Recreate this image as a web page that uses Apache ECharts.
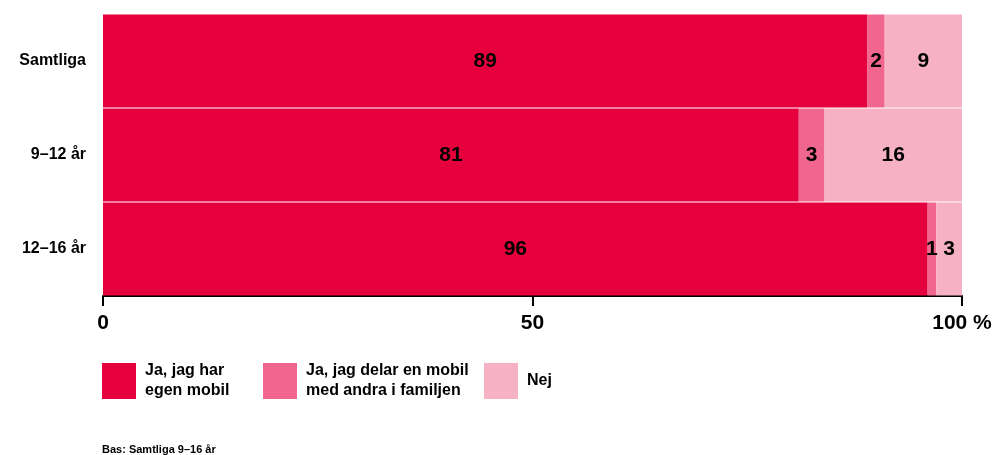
<!DOCTYPE html>
<html lang="sv">
  <head>
    <meta charset="UTF-8" />
    <title>Mobil</title>
    <script src="https://cdn.jsdelivr.net/npm/echarts@6.0.0/dist/echarts.min.js"></script>
    <style>
      body { margin: 0; background: #fff; }
    </style>
  </head>
  <body>
    <div id="main" style="width: 997px; height: 455px"></div>
    <script type="text/javascript">
      // data
      const categories = ["Samtliga", "9–12 år", "12–16 år"];
      const egenMobil = [89, 81, 96];
      const delarMobil = [2, 3, 1];
      const nej = [9, 16, 3];
      const xTicks = [0, 50, 100];

      const names = ["Ja, jag har egen mobil", "Ja, jag delar en mobil med andra i familjen", "Nej"];
      const legendText = {
        "Ja, jag har egen mobil": "Ja, jag har\negen mobil",
        "Ja, jag delar en mobil med andra i familjen": "Ja, jag delar en mobil\nmed andra i familjen",
        "Nej": "Nej",
      };
      const colors = ["#E5003D", "#F0668E", "#F6B2C4"];
      const font = "Liberation Sans";

      function bar(name, data, color) {
        return {
          name: name,
          type: "bar",
          stack: "total",
          data: data,
          barCategoryGap: 1,
          itemStyle: { color: color },
          label: {
            show: true,
            position: "inside",
            color: "#000",
            fontFamily: font,
            fontWeight: "bold",
            fontSize: 21,
          },
        };
      }

      function legendAt(name, left, top) {
        return {
          data: [name],
          left: left,
          top: top,
          padding: 0,
          itemWidth: 34,
          itemHeight: 36,
          icon: "rect",
          selectedMode: false,
          formatter: (n) => legendText[n],
          textStyle: {
            fontFamily: font,
            fontWeight: "bold",
            fontSize: 16,
            lineHeight: 20,
            color: "#000",
            padding: [0, 0, 0, 4],
          },
        };
      }

      let options = {
        animation: false,
        color: colors,
        title: {
          text: "Bas: Samtliga 9–16 år",
          left: 97,
          top: 439,
          textStyle: { fontFamily: font, fontWeight: "bold", fontSize: 11, color: "#000" },
        },
        legend: [
          legendAt(names[0], 102, 361),
          legendAt(names[1], 263, 361),
          legendAt(names[2], 484, 363),
        ],
        grid: { left: 103, right: 35, top: 14, bottom: 159, containLabel: false },
        xAxis: {
          type: "value",
          min: 0,
          max: 100,
          interval: 50,
          splitLine: { show: false },
          axisLine: { show: true, lineStyle: { color: "#000", width: 2 } },
          axisTick: { show: true, length: 10, lineStyle: { color: "#000", width: 2 } },
          axisLabel: {
            margin: 17,
            fontFamily: font,
            fontWeight: "bold",
            fontSize: 21,
            color: "#000",
            formatter: (v) => (xTicks.includes(v) ? (v === 100 ? "100 %" : String(v)) : ""),
          },
        },
        yAxis: {
          type: "category",
          data: categories,
          inverse: true,
          axisLine: { show: false },
          axisTick: { show: false },
          axisLabel: {
            margin: 17,
            fontFamily: font,
            fontWeight: "bold",
            fontSize: 16,
            color: "#000",
          },
        },
        series: [
          bar(names[0], egenMobil, colors[0]),
          bar(names[1], delarMobil, colors[1]),
          bar(names[2], nej, colors[2]),
        ],
      };

      let myChart = echarts.init(document.getElementById("main"));
      myChart.setOption(options);
    </script>
  </body>
</html>
